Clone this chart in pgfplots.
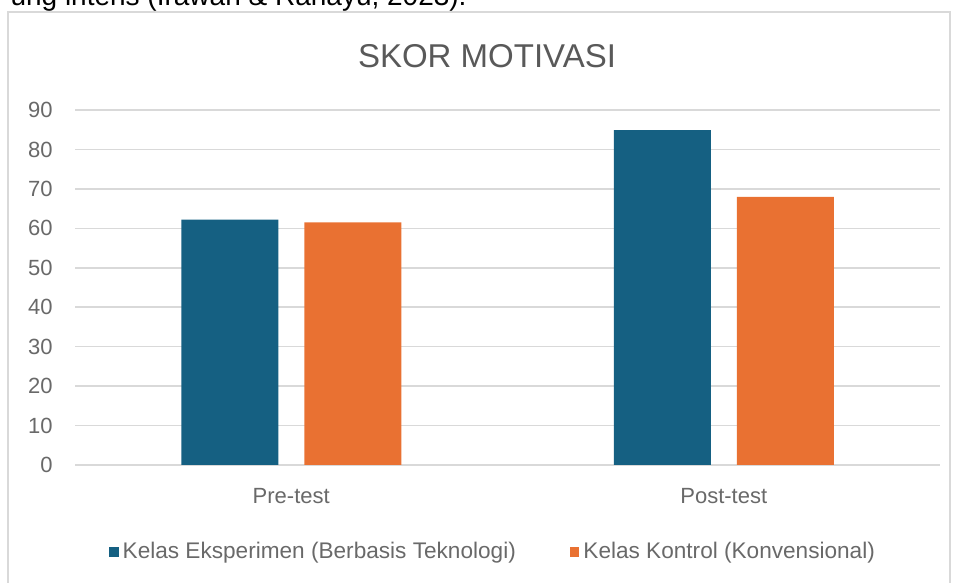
\documentclass[border=0pt]{standalone}
\usepackage{fontspec}
\setmainfont{Liberation Sans}
\usepackage{pgfplots}
\pgfplotsset{compat=1.18}
\definecolor{cblue}{RGB}{21,96,130}
\definecolor{corange}{RGB}{233,113,50}
\definecolor{tgray}{RGB}{89,89,89}
\definecolor{lgray}{RGB}{105,105,105}
\definecolor{ggray}{RGB}{217,217,217}
\begin{document}
\begin{tikzpicture}[x=0.5pt,y=0.5pt]
\useasboundingbox (0,0) rectangle (958,583);
\begin{scope}
\clip (0,0) rectangle (958,583);
\node[anchor=base east, inner sep=0pt, font=\fontsize{14pt}{16pt}\selectfont] at (467,577) {ung intens (Irawan \& Rahayu, 2023).};
\draw[ggray, line width=0.8pt] (8,-10) rectangle (950,571);
\end{scope}
\node[font=\fontsize{16.5pt}{19pt}\selectfont, text=tgray] at (487,527) {SKOR MOTIVASI};
\begin{axis}[
  at={(37.5pt,59pt)}, anchor=south west, scale only axis,
  width=432.5pt, height=177.5pt,
  ymin=0, ymax=90, ytick={0,10,...,90},
  xmin=-0.5, xmax=1.5, xtick={0,1}, xticklabels={Pre-test,Post-test},
  ybar=13pt, bar width=48.5pt,
  axis line style={draw=none},
  ymajorgrids, grid style={ggray, line width=0.8pt},
  major tick length=0pt,
  tick label style={font=\fontsize{11pt}{13pt}\selectfont, text=lgray},
  yticklabel style={anchor=east, inner sep=0pt, xshift=-11pt},
  xticklabel style={anchor=north, inner sep=0pt, yshift=-11.5pt},
  /pgf/number format/assume math mode=true,
  legend style={at={(0.4844,-0.245)}, anchor=center, draw=none, fill=none,
    legend columns=2, font=\fontsize{11.3pt}{13pt}\selectfont, text=lgray,
    /tikz/every even column/.append style={column sep=25pt},
    inner sep=0pt, outer sep=0pt},
  legend image code/.code={\draw[#1,draw=none] (0pt,-2.4pt) rectangle (4.8pt,2.4pt);},
  legend cell align=left,
]
\addplot[fill=cblue, draw=none] coordinates {(0,62.2) (1,84.9)};
\addplot[fill=corange, draw=none] coordinates {(0,61.5) (1,68.0)};
\legend{Kelas Eksperimen (Berbasis Teknologi), Kelas Kontrol (Konvensional)}
\end{axis}
\end{tikzpicture}
\end{document}
